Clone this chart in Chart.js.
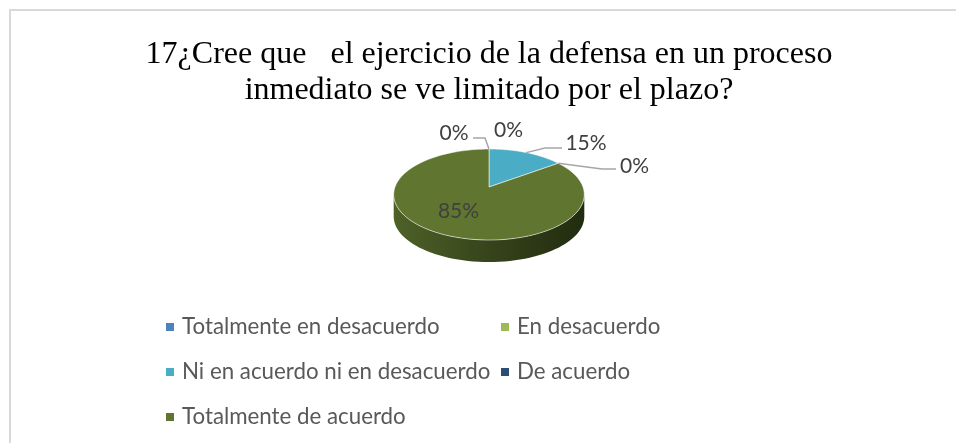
<!DOCTYPE html>
<html>
<head>
<meta charset="utf-8">
<title>Plazo del proceso inmediato</title>
<style>
  html, body { margin: 0; padding: 0; background: #fff; overflow: hidden; }
  #frame { position: absolute; left: 9px; top: 9px; width: 947px; height: 434px; border-left: 2px solid #d9d9d9; border-top: 2px solid #d9d9d9; box-sizing: border-box; }
  canvas { position: absolute; left: 0; top: 0; }
</style>
<script src="https://cdn.jsdelivr.net/npm/chart.js@4"></script>
</head>
<body>
<div id="frame"></div>
<canvas id="myChart" width="956" height="443"></canvas>
<script>
let categories = ["Totalmente en desacuerdo", "En desacuerdo", "Ni en acuerdo ni en desacuerdo", "De acuerdo", "Totalmente de acuerdo"];
let percentages = [0, 0, 15, 0, 85];
let sliceColors = ["#4f81bd", "#9bbb59", "#4bacc6", "#2c4d75", "#5f7530"];
let titleLines = ["17¿Cree que   el ejercicio de la defensa en un proceso", "inmediato se ve limitado por el plazo?"];

const squash = 0.471;
const perspective = -0.165;
const depth = 22;
const labelFont = '21px Lato, sans-serif';
const legendFont = '22.3px Lato, sans-serif';

// label centre and optional leader, as offsets from the pie centre
const labelSpots = [
    { dx: -35, dy: -54, leader: [[-16, -49], [-4, -49]] },
    { dx: 19.5, dy: -57 },
    { dx: 97, dy: -44, leader: [[73, -39], [56, -39]] },
    { dx: 145.5, dy: -21, leader: [[127, -18], [113, -18]] },
    { dx: -30.5, dy: 24 }
];
const legendSpots = [[170, 327], [505, 327], [170, 372], [505, 372], [170, 417]];

// circle point seen from above, far side smaller
let project = function (arc, angle) {
    const v = Math.sin(angle);
    const w = 1 + perspective * v;
    return {
        x: arc.x + arc.outerRadius * Math.cos(angle) / w,
        y: arc.y + arc.outerRadius * squash * v / w
    };
};

class TiltArc extends Chart.ArcElement {
    static id = "tiltArc";

    draw(ctx) {
        if (this.endAngle - this.startAngle <= 0) {
            return;
        }
        const frontStart = Math.asin(-perspective);
        const frontEnd = Math.PI - frontStart;
        const from = Math.max(this.startAngle, frontStart);
        const to = Math.min(this.endAngle, frontEnd);
        ctx.save();
        if (to > from) {
            let wall = ctx.createLinearGradient(this.x - this.outerRadius, 0, this.x + this.outerRadius, 0);
            wall.addColorStop(0, "#4e6127");
            wall.addColorStop(0.5, "#36441b");
            wall.addColorStop(1, "#222c10");
            ctx.fillStyle = wall;
            ctx.beginPath();
            for (let i = 0; i <= 60; i++) {
                const p = project(this, from + (to - from) * i / 60);
                ctx.lineTo(p.x, p.y);
            }
            for (let i = 60; i >= 0; i--) {
                const p = project(this, from + (to - from) * i / 60);
                ctx.lineTo(p.x, p.y + depth);
            }
            ctx.closePath();
            ctx.fill();
        }
        ctx.beginPath();
        ctx.moveTo(this.x, this.y);
        for (let i = 0; i <= 120; i++) {
            const p = project(this, this.startAngle + (this.endAngle - this.startAngle) * i / 120);
            ctx.lineTo(p.x, p.y);
        }
        ctx.closePath();
        ctx.fillStyle = this.options.backgroundColor;
        ctx.fill();
        ctx.strokeStyle = this.options.borderColor;
        ctx.lineWidth = this.options.borderWidth;
        ctx.stroke();
        ctx.restore();
    }
}

class TiltPie extends Chart.PieController {
    static id = "tiltPie";
    static defaults = { dataElementType: "tiltArc" };
}

Chart.register(TiltArc, TiltPie);

let annotatePlugin = {
    id: "annotate",
    afterDatasetsDraw: function (chart) {
        const ctx = chart.ctx;
        const arcs = chart.getDatasetMeta(0).data;

        ctx.save();
        ctx.font = labelFont;
        ctx.textAlign = "center";
        ctx.textBaseline = "middle";
        arcs.forEach(function (arc, i) {
            const spot = labelSpots[i];
            if (spot.leader) {
                const end = project(arc, (arc.startAngle + arc.endAngle) / 2);
                ctx.strokeStyle = "#a6a6a6";
                ctx.lineWidth = 1.5;
                ctx.beginPath();
                ctx.moveTo(arc.x + spot.leader[0][0], arc.y + spot.leader[0][1]);
                ctx.lineTo(arc.x + spot.leader[1][0], arc.y + spot.leader[1][1]);
                ctx.lineTo(end.x, end.y);
                ctx.stroke();
            }
            ctx.fillStyle = "#404040";
            ctx.fillText(percentages[i] + "%", arc.x + spot.dx, arc.y + spot.dy);
        });
        ctx.restore();

        // two column legend, the built in one cannot line up columns
        ctx.save();
        ctx.font = legendFont;
        ctx.textAlign = "left";
        ctx.textBaseline = "middle";
        categories.forEach(function (name, i) {
            const x = legendSpots[i][0];
            const y = legendSpots[i][1];
            ctx.fillStyle = sliceColors[i];
            ctx.fillRect(x - 4, y - 4, 8, 8);
            ctx.fillStyle = "#595959";
            ctx.fillText(name, x + 12, y);
        });
        ctx.restore();
    }
};

const ctx = document.getElementById("myChart").getContext("2d");
var myChart = new Chart(ctx, {
    type: "tiltPie",
    data: {
        labels: categories,
        datasets: [{
            data: percentages,
            backgroundColor: sliceColors,
            borderColor: "rgba(255, 255, 255, 0.55)",
            borderWidth: 1,
            radius: 94
        }]
    },
    options: {
        responsive: false,
        animation: false,
        cutout: 0,
        layout: {
            padding: { top: 37, left: 22, right: 0, bottom: 161 }
        },
        plugins: {
            legend: { display: false },
            tooltip: { enabled: false },
            title: {
                display: true,
                text: titleLines,
                color: "#000000",
                font: { family: '"Liberation Serif", serif', size: 32, weight: "normal", lineHeight: 1.125 },
                padding: { top: 0, bottom: -17 }
            }
        }
    },
    plugins: [annotatePlugin]
});
</script>
</body>
</html>
